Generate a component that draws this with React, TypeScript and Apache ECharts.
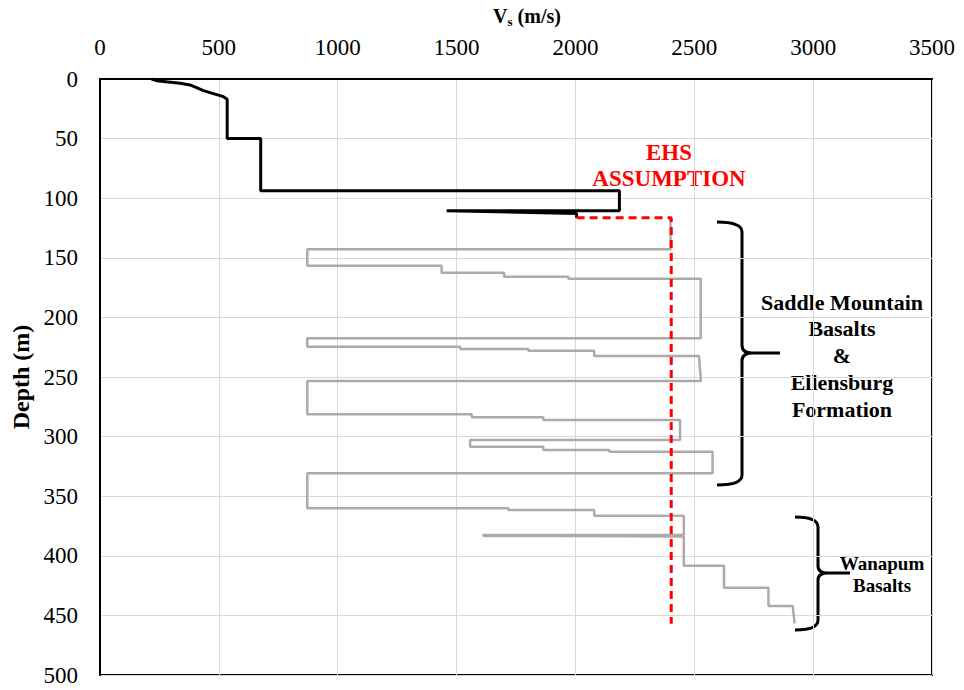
import React, { useEffect, useRef } from "react";
import * as echarts from "echarts";

const xTicks = [0, 500, 1000, 1500, 2000, 2500, 3000, 3500];
const yTicks = [0, 50, 100, 150, 200, 250, 300, 350, 400, 450, 500];

// Upper (black) Vs profile
const surfaceVs = [217, 238, 337, 379, 435, 519, 535, 535, 676, 676, 2185, 2185, 1458, 2005, 2005];
const surfaceDepth = [0, 1.4, 3.6, 5, 9.8, 14.8, 17, 50, 50, 93.7, 93.7, 110.5, 110.5, 112.8, 116.3];

// Basalt (gray) Vs profile
const basaltVs = [2400, 2400, 872, 872, 1437, 1437, 1700, 1700, 1970, 1970, 2527, 2527, 872, 872, 1515, 1515, 1802, 1802, 2079, 2079, 2520, 2528, 872, 872, 1564, 1564, 1865, 1865, 2440, 2440, 1557, 1557, 1865, 1865, 2143, 2143, 2577, 2577, 872, 872, 1718, 1718, 2079, 2079, 2456, 2456, 1613, 1613, 1921, 1921, 2456, 2456, 2625, 2625, 2812, 2812, 2914, 2922];
const basaltDepth = [116.3, 142.9, 142.9, 156.6, 156.6, 162.5, 162.5, 165.9, 165.9, 167.5, 167.5, 217.5, 217.5, 224.6, 224.6, 226.5, 226.5, 228, 228, 232.4, 232.4, 253.4, 253.4, 281.3, 281.3, 283.8, 283.8, 286, 286, 302.9, 302.9, 308.5, 308.5, 311.2, 311.2, 312.7, 312.7, 330.8, 330.8, 360.2, 360.2, 361.6, 361.6, 366.4, 366.4, 382.6, 382.6, 383.3, 383.3, 383.8, 383.8, 408.3, 408.3, 426.8, 426.8, 442.1, 442.1, 456.6];

// EHS assumption (red dashed)
const ehsVs = [2005, 2403, 2403];
const ehsDepth = [116.3, 116.3, 457];

const saddleLines = ["Saddle Mountain", "Basalts", "&", "Ellensburg", "Formation"];
const wanapumLines = ["Wanapum", "Basalts"];
const ehsLines = ["EHS", "ASSUMPTION"];

const FONT = "Liberation Serif, Times New Roman, serif";

const zip = (xs: number[], ys: number[]) => xs.map((x, i) => [x, ys[i]]);

let registered = false;
function registerBraces() {
  if (registered) return;
  registered = true;
  const saddle =
    "M717,222 Q742,222 742,232 L742,345 Q742,353 752,353 L780,353 M752,353 Q742,353 742,361 L742,475 Q742,485 717,485";
  const wanapum =
    "M795,517 Q818,517 818,527 L818,566 Q818,573 828,573 L850,573 M828,573 Q818,573 818,580 L818,620 Q818,630 795,630";
  echarts.graphic.registerShape("braceSaddle", echarts.graphic.extendPath(saddle, {}));
  echarts.graphic.registerShape("braceWanapum", echarts.graphic.extendPath(wanapum, {}));
}

export default function App() {
  const ref = useRef<HTMLDivElement>(null);
  useEffect(() => {
    if (!ref.current) return;
    registerBraces();
    const chart = echarts.init(ref.current, undefined, { renderer: "svg" });
    const textEls: any[] = [];
    const mk = (t: string, x: number, y: number, size: number, color: string) => ({
      type: "text",
      x,
      y,
      style: {
        text: t,
        fill: color,
        fontFamily: FONT,
        fontWeight: "bold",
        fontSize: size,
        align: "center",
        verticalAlign: "middle",
      },
    });
    saddleLines.forEach((t, i) => textEls.push(mk(t, 842, 302 + i * 26.8, 22, "#000")));
    wanapumLines.forEach((t, i) => textEls.push(mk(t, 882, 563 + i * 22, 19, "#000")));
    ehsLines.forEach((t, i) => textEls.push(mk(t, 669, 152 + i * 26, 23, "#ff0000")));
    chart.setOption({
      animation: false,
      backgroundColor: "#fff",
      textStyle: { fontFamily: FONT },
      grid: {
        left: 100,
        right: 32,
        top: 79,
        bottom: 15,
        show: true,
        borderColor: "#000",
        borderWidth: 2,
        containLabel: false,
        outerBoundsMode: "none",
      },
      xAxis: {
        type: "value",
        position: "top",
        min: 0,
        max: 3500,
        interval: 500,
        name: "{v|V}{s|s}{v| (m/s)}",
        nameLocation: "middle",
        nameGap: 50,
        nameTextStyle: {
          padding: [0, 0, 0, 22],
          rich: {
            v: { fontFamily: FONT, fontWeight: "bold", fontSize: 20, color: "#000", lineHeight: 26 },
            s: { fontFamily: FONT, fontWeight: "bold", fontSize: 13, color: "#000", padding: [10, 0, 0, 0], lineHeight: 26 },
          },
        },
        axisLine: { show: true, lineStyle: { color: "#000", width: 2 } },
        axisTick: { show: false },
        axisLabel: {
          fontFamily: FONT,
          fontSize: 23,
          color: "#000",
          margin: 20,
          formatter: (v: number) => (xTicks.includes(v) ? String(v) : ""),
        },
        splitLine: { show: true, lineStyle: { color: "#d9d9d9", width: 1 } },
      },
      yAxis: {
        type: "value",
        inverse: true,
        min: 0,
        max: 500,
        interval: 50,
        name: "Depth (m)",
        nameLocation: "middle",
        nameRotate: 90,
        nameGap: 66,
        nameTextStyle: { fontFamily: FONT, fontWeight: "bold", fontSize: 24, color: "#000" },
        axisLine: { show: true, lineStyle: { color: "#000", width: 2 } },
        axisTick: { show: false },
        axisLabel: {
          fontFamily: FONT,
          fontSize: 23,
          color: "#000",
          margin: 22,
          formatter: (v: number) => (yTicks.includes(v) ? String(v) : ""),
        },
        splitLine: { show: true, lineStyle: { color: "#d9d9d9", width: 1 } },
      },
      series: [
        {
          type: "line",
          data: zip(basaltVs, basaltDepth),
          showSymbol: false,
          lineStyle: { color: "#aeaaaa", width: 2.5 },
          z: 2,
        },
        {
          type: "line",
          data: zip(surfaceVs, surfaceDepth),
          showSymbol: false,
          lineStyle: { color: "#000", width: 3 },
          z: 3,
        },
        {
          type: "line",
          data: zip(ehsVs, ehsDepth),
          showSymbol: false,
          lineStyle: { color: "#ff0000", width: 3, type: [8, 5] },
          z: 4,
        },
      ],
      graphic: [
        { type: "braceSaddle", x: 0, y: 0, style: { stroke: "#000", lineWidth: 3, fill: null } },
        { type: "braceWanapum", x: 0, y: 0, style: { stroke: "#000", lineWidth: 3, fill: null } },
        ...textEls,
      ],
    });
    return () => chart.dispose();
  }, []);
  return (
    <div
      ref={ref}
      style={{ position: "absolute", left: 0, top: 0, width: 964, height: 690 }}
    />
  );
}
